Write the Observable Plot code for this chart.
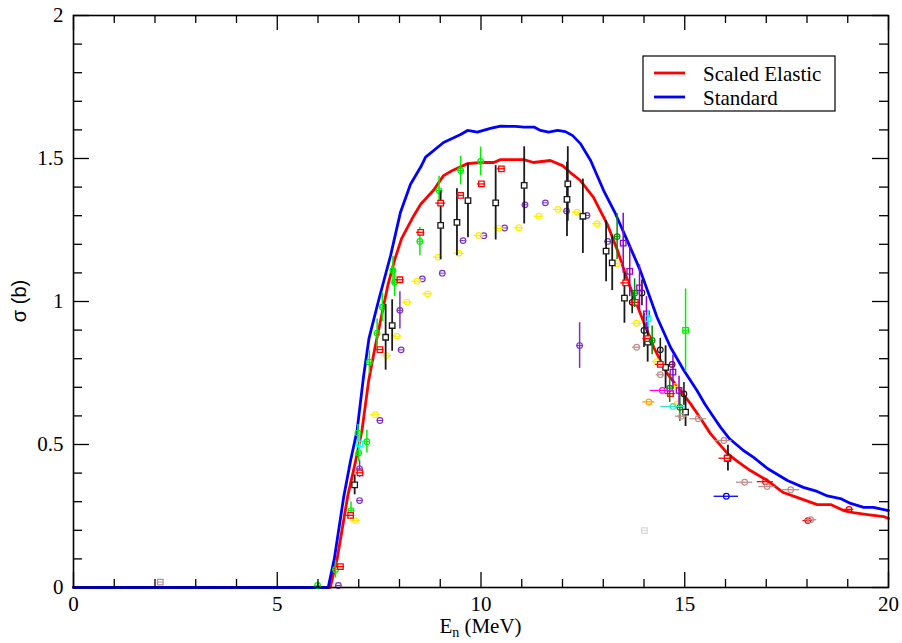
<!DOCTYPE html>
<html><head><meta charset="utf-8">
<script src="https://cdn.jsdelivr.net/npm/d3@7"></script>
<script src="https://cdn.jsdelivr.net/npm/@observablehq/plot@0.6"></script>
<style>body{margin:0;background:#fff}</style>
</head><body><div id="chart"></div>
<script>
// ---------- ticks ----------
const xMajorTicks = [0, 5, 10, 15, 20];
const xMinorTicks = [1, 2, 3, 4, 6, 7, 8, 9, 11, 12, 13, 14, 16, 17, 18, 19];
const yMajorTicks = [0, 0.5, 1, 1.5, 2];
const yMinorTicks = [0.1, 0.2, 0.3, 0.4, 0.6, 0.7, 0.8, 0.9, 1.1, 1.2, 1.3, 1.4, 1.6, 1.7, 1.8, 1.9];
const legendLabels = ["Scaled Elastic", "Standard"];

// ---------- curves ----------
const energyStd = [0, 6.25, 6.4, 6.63, 6.8, 6.96, 7.12, 7.25, 7.48, 7.78, 8.02, 8.27, 8.52, 8.64, 9.08, 9.5, 9.67, 9.91, 10.23, 10.48, 10.85, 11.05, 11.3, 11.46, 11.66, 11.88, 12.07, 12.25, 12.44, 12.69, 13.01, 13.3, 13.59, 13.91, 14.32, 14.65, 14.98, 15.3, 15.5, 15.71, 15.88, 16.1, 16.44, 16.69, 17.03, 17.52, 17.91, 18.25, 18.5, 18.82, 19.07, 19.39, 19.63, 20];
const sigmaStd  = [0, 0, 0.1, 0.316, 0.444, 0.55, 0.74, 0.87, 1.0, 1.16, 1.31, 1.41, 1.47, 1.505, 1.556, 1.584, 1.598, 1.592, 1.605, 1.613, 1.612, 1.61, 1.61, 1.598, 1.592, 1.598, 1.594, 1.58, 1.552, 1.493, 1.388, 1.307, 1.213, 1.108, 0.945, 0.84, 0.759, 0.689, 0.64, 0.595, 0.56, 0.52, 0.479, 0.455, 0.416, 0.374, 0.35, 0.336, 0.32, 0.311, 0.294, 0.28, 0.28, 0.269];
const energyScaled = [0, 6.3, 6.47, 6.73, 6.92, 7.08, 7.24, 7.4, 7.56, 7.72, 7.88, 8.05, 8.35, 8.52, 8.84, 9.08, 9.3, 9.67, 9.99, 10.31, 10.48, 11.05, 11.29, 11.7, 12.0, 12.2, 12.44, 12.76, 13.1, 13.35, 13.6, 13.91, 14.24, 14.57, 14.89, 15.14, 15.39, 15.63, 16.05, 16.3, 16.61, 17.03, 17.42, 17.84, 18.25, 18.58, 18.9, 19.14, 19.48, 19.88, 20];
const sigmaScaled  = [0, 0, 0.1, 0.32, 0.44, 0.55, 0.72, 0.84, 0.95, 1.06, 1.145, 1.22, 1.3, 1.34, 1.39, 1.44, 1.458, 1.482, 1.486, 1.486, 1.496, 1.496, 1.486, 1.493, 1.475, 1.45, 1.423, 1.364, 1.27, 1.178, 1.073, 0.958, 0.839, 0.748, 0.689, 0.643, 0.591, 0.538, 0.468, 0.44, 0.409, 0.374, 0.332, 0.311, 0.29, 0.29, 0.269, 0.262, 0.255, 0.248, 0.241];

// ---------- measurements ----------
const blackSqE   = [6.9, 7.66, 7.82, 9.01, 9.41, 9.68, 10.36, 11.06, 12.11, 12.13, 12.5, 13.07, 13.22, 13.52, 14.09, 14.53, 15.02, 16.06];
const blackSqS   = [0.359, 0.875, 0.916, 1.266, 1.277, 1.353, 1.345, 1.406, 1.357, 1.411, 1.298, 1.176, 1.135, 1.012, 0.858, 0.77, 0.613, 0.452];
const blackSqErr = [0.035, 0.115, 0.09, 0.12, 0.117, 0.13, 0.13, 0.135, 0.13, 0.13, 0.13, 0.107, 0.097, 0.088, 0.07, 0.075, 0.05, 0.045];

const blackCirE   = [13.71, 13.95, 14.0, 14.4, 14.98];
const blackCirS   = [0.997, 1.03, 0.899, 0.831, 0.677];
const blackCirErr = [0.04, 0.045, 0.06, 0.04, 0.04];

const redSqE  = [6.55, 6.8, 7.03, 7.52, 8.01, 8.52, 9.01, 9.5, 10.01, 10.5, 13.55, 13.79, 14.09, 14.4, 14.65, 16.04];
const redSqS  = [0.073, 0.252, 0.401, 0.832, 1.076, 1.242, 1.344, 1.371, 1.411, 1.464, 1.065, 0.997, 0.87, 0.78, 0.678, 0.452];
const redSqDx = [0.1, 0.1, 0.1, 0.1, 0.1, 0.1, 0.12, 0.1, 0.1, 0.1, 0.12, 0.12, 0.12, 0.12, 0.12, 0.2];

const redCirE  = [16.98, 18.02, 19.03];
const redCirS  = [0.37, 0.234, 0.273];
const redCirDx = [0.2, 0.12, 0.12];

const greenE   = [5.99, 6.43, 6.81, 6.98, 7.0, 7.2, 7.26, 7.45, 7.58, 7.84, 7.88, 8.5, 8.97, 9.5, 9.99];
const greenS   = [0.007, 0.063, 0.269, 0.54, 0.47, 0.51, 0.788, 0.889, 0.98, 1.108, 1.067, 1.21, 1.388, 1.458, 1.49];
const greenErr = [0.01, 0.03, 0.03, 0.03, 0.03, 0.04, 0.04, 0.05, 0.05, 0.05, 0.05, 0.05, 0.05, 0.05, 0.05];

const indigoE   = [6.5, 7.02, 7.02, 7.52, 8.04, 8.01, 8.56, 9.05, 9.56, 10.07, 10.58, 11.08, 11.58, 12.1, 12.6, 13.11, 12.42];
const indigoS   = [0.007, 0.304, 0.415, 0.584, 0.831, 0.969, 1.079, 1.099, 1.213, 1.23, 1.257, 1.338, 1.345, 1.316, 1.301, 1.21, 0.846];
const indigoErr = [0, 0, 0.03, 0, 0, 0.065, 0, 0, 0, 0, 0, 0, 0, 0, 0, 0, 0.08];

const yellowE  = [6.92, 7.41, 7.68, 7.94, 8.19, 8.43, 8.69, 8.95, 9.46, 9.95, 10.44, 10.93, 11.42, 11.89, 12.36, 12.85, 13.34, 13.82, 14.31, 14.77, 14.81];
const yellowS  = [0.234, 0.604, 0.811, 0.879, 0.998, 1.071, 1.027, 1.155, 1.169, 1.231, 1.256, 1.258, 1.298, 1.322, 1.312, 1.272, 1.132, 0.924, 0.79, 0.703, 0.642];
const yellowDx = [0.12, 0.12, 0.12, 0.12, 0.12, 0.12, 0.12, 0.12, 0.12, 0.12, 0.12, 0.12, 0.12, 0.12, 0.12, 0.12, 0.12, 0.12, 0.12, 0.1, 0.1];

const violetSqE   = [13.49, 13.65, 13.89, 14.06, 14.71, 14.86];
const violetSqS   = [1.204, 1.105, 1.048, 0.957, 0.753, 0.689];
const violetSqErr = [0.105, 0.088, 0.08, 0.06, 0.06, 0.05];

const dkGreenE   = [13.34, 13.77, 14.2, 14.63, 14.88];
const dkGreenS   = [1.227, 1.029, 0.864, 0.697, 0.63];
const dkGreenErr = [0.08, 0.05, 0.05, 0.05, 0.05];

const brownE  = [13.82, 14.4, 14.92, 15.33, 15.96, 16.47, 17.02, 17.6, 18.09];
const brownS  = [0.84, 0.744, 0.599, 0.59, 0.514, 0.368, 0.353, 0.342, 0.237];
const brownDx = [0.1, 0.1, 0.15, 0.2, 0.2, 0.2, 0.2, 0.22, 0.15];

const brownSqE = [2.13];  const brownSqS = [0.019];
const magentaE = [14.45]; const magentaS = [0.689]; const magentaDx = [0.3];
const orangeE  = [14.12]; const orangeS  = [0.649]; const orangeDx  = [0.15];
const turqE    = [14.71]; const turqS    = [0.633]; const turqDx    = [0.3];
const cyanE    = [14.1, 7.02]; const cyanS = [0.94, 0.502]; const cyanErr = [0.03, 0.03];
const blueE    = [16.02]; const blueS    = [0.319]; const blueDx    = [0.3];
const greySqE  = [14.01]; const greySqS  = [0.199];
const limeSqE  = [15.02]; const limeSqS  = [0.899]; const limeSqErr = [0.145];
const maroonE  = [14.69]; const maroonS  = [0.78];

// ---------- build tables ----------
const rows = (xs, ys, es) => xs.map((x, i) => ({x, y: ys[i], e: es ? es[i] : 0}));
const std = rows(energyStd, sigmaStd);
const scaled = rows(energyScaled, sigmaScaled);

// ---------- layout ----------
const W = 902, H = 643, mL = 73, mR = 14, mT = 15, mB = 56;
const xDomain = [0, 20], yDomain = [0, 2];
const pxX = (xDomain[1] - xDomain[0]) / (W - mL - mR);
const pxY = (yDomain[1] - yDomain[0]) / (H - mT - mB);

const C = {
  black: "#1a1a1a", red: "#ff0000", green: "#00ee00", indigo: "#7a32c4", yellow: "#ffee00",
  violet: "#9400d3", dkgreen: "#008b00", brown: "#bc8f8f", magenta: "#ff00ff", orange: "#ffa500",
  turq: "#40e0d0", cyan: "#00ffff", blue: "#0000ff", grey: "#d8d8d8", maroon: "#670748"
};

const vbars = (t, c, w = 1.5) => Plot.ruleX(t.filter(d => d.e > 0), {x: "x", y1: d => d.y - d.e, y2: d => d.y + d.e, stroke: c, strokeWidth: w});
const hbars = (t, c, w = 1.3) => Plot.ruleY(t.filter(d => d.e > 0), {y: "y", x1: d => d.x - d.e, x2: d => d.x + d.e, stroke: c, strokeWidth: w});
const mids = (t, c) => Plot.ruleY(t, {y: "y", x1: d => d.x - 2.8 * pxX, x2: d => d.x + 2.8 * pxX, stroke: c, strokeWidth: 1});
const circles = (t, c) => Plot.dot(t, {x: "x", y: "y", r: 2.8, stroke: c, strokeWidth: 1.2, fill: "none"});
const squares = (t, c, fill = "white") => Plot.dot(t, {x: "x", y: "y", r: 3.1, symbol: "square", stroke: c, strokeWidth: 1.3, fill});

function tickSet(xs, ys, len, lenY) {
  return [
    Plot.ruleX(xs, {x: d => d, y1: yDomain[0], y2: yDomain[0] + len * pxY, stroke: "black", strokeWidth: 1.3}),
    Plot.ruleX(xs, {x: d => d, y1: yDomain[1], y2: yDomain[1] - len * pxY, stroke: "black", strokeWidth: 1.3}),
    Plot.ruleY(ys, {y: d => d, x1: xDomain[0], x2: xDomain[0] + lenY * pxX, stroke: "black", strokeWidth: 1.3}),
    Plot.ruleY(ys, {y: d => d, x1: xDomain[1], x2: xDomain[1] - lenY * pxX, stroke: "black", strokeWidth: 1.3})
  ];
}

const blackSq = rows(blackSqE, blackSqS, blackSqErr);
const blackCir = rows(blackCirE, blackCirS, blackCirErr);
const redSq = rows(redSqE, redSqS, redSqDx);
const redCir = rows(redCirE, redCirS, redCirDx);
const green = rows(greenE, greenS, greenErr);
const indigo = rows(indigoE, indigoS, indigoErr);
const yellow = rows(yellowE, yellowS, yellowDx);
const violetSq = rows(violetSqE, violetSqS, violetSqErr);
const dkGreen = rows(dkGreenE, dkGreenS, dkGreenErr);
const brown = rows(brownE, brownS, brownDx);
const brownSq = rows(brownSqE, brownSqS);
const magenta = rows(magentaE, magentaS, magentaDx);
const orange = rows(orangeE, orangeS, orangeDx);
const turq = rows(turqE, turqS, turqDx);
const cyan = rows(cyanE, cyanS, cyanErr);
const blue = rows(blueE, blueS, blueDx);
const greySq = rows(greySqE, greySqS);
const limeSq = rows(limeSqE, limeSqS, limeSqErr);
const maroon = rows(maroonE, maroonS);

const plot = Plot.plot({
  width: W, height: H,
  marginLeft: mL, marginRight: mR, marginTop: mT, marginBottom: mB,
  x: {domain: xDomain, label: null},
  y: {domain: yDomain, label: null},
  style: {fontFamily: "'Liberation Serif', 'Times New Roman', serif", fontSize: "21px", background: "white", color: "black", overflow: "visible"},
  marks: [
    // curves
    Plot.line(scaled, {x: "x", y: "y", stroke: C.red, strokeWidth: 2.8}),
    Plot.line(std, {x: "x", y: "y", stroke: C.blue, strokeWidth: 2.8}),

    vbars(indigo, C.indigo), mids(indigo, C.indigo), circles(indigo, C.indigo),
    hbars(yellow, C.yellow), circles(yellow, C.yellow),
    vbars(green, C.green), mids(green, C.green), circles(green, C.green),
    vbars(blackSq, C.black, 1.8), squares(blackSq, C.black),
    vbars(blackCir, C.black, 1.6), circles(blackCir, C.black),
    squares(redSq, C.red), hbars(redSq, C.red),
    hbars(redCir, C.red), circles(redCir, C.red),
    vbars(violetSq, C.violet), squares(violetSq, C.violet, "none"),
    vbars(dkGreen, C.dkgreen), mids(dkGreen, C.dkgreen), circles(dkGreen, C.dkgreen),
    hbars(brown, C.brown), circles(brown, C.brown),
    squares(brownSq, C.brown, "none"), mids(brownSq, C.brown),
    hbars(magenta, C.magenta), circles(magenta, C.magenta),
    hbars(orange, C.orange), circles(orange, C.orange),
    hbars(turq, C.turq), circles(turq, C.turq),
    vbars(cyan, C.cyan), squares(cyan, C.cyan, "none"),
    hbars(blue, C.blue), circles(blue, C.blue),
    squares(greySq, C.grey, "none"), mids(greySq, C.grey),
    vbars(limeSq, C.green), squares(limeSq, C.green, "none"), mids(limeSq, C.green),
    circles(maroon, C.maroon), mids(maroon, C.maroon),

    // ticks
    ...tickSet(xMajorTicks, yMajorTicks, 15, 16),
    ...tickSet(xMinorTicks, yMinorTicks, 8, 9),
    Plot.frame({stroke: "black", strokeWidth: 1.6}),

    Plot.axisX(xMajorTicks, {anchor: "bottom", tickSize: 0, tickPadding: 9, tickFormat: d => String(d), label: null}),
    Plot.axisY(yMajorTicks, {anchor: "left", tickSize: 0, tickPadding: 10, tickFormat: d => String(d), label: null})
  ]
});

document.getElementById("chart").appendChild(plot);

// axis titles and legend
const svg = d3.select(plot);
const xs = plot.scale("x"), ys = plot.scale("y");
const midX = (xs.apply(xDomain[0]) + xs.apply(xDomain[1])) / 2;
const midY = (ys.apply(yDomain[0]) + ys.apply(yDomain[1])) / 2;

const xt = svg.append("text")
  .attr("x", midX).attr("y", H - 10)
  .attr("text-anchor", "middle")
  .style("font-family", "'Liberation Serif', serif").style("font-size", "21px").attr("fill", "black");
xt.append("tspan").text("E");
xt.append("tspan").attr("dy", 4).style("font-size", "14px").text("n");
xt.append("tspan").attr("dy", -4).text(" (MeV)");

svg.append("text")
  .attr("transform", `translate(26,${midY}) rotate(-90)`)
  .attr("text-anchor", "middle")
  .style("font-family", "'Liberation Sans', Arial, sans-serif").style("font-size", "20px").attr("fill", "black")
  .text("σ (b)");

const lg = svg.append("g");
lg.append("rect").attr("x", 643).attr("y", 56).attr("width", 192).attr("height", 55)
  .attr("fill", "white").attr("stroke", "black").attr("stroke-width", 1.2);
const legendColors = [C.red, C.blue];
legendLabels.forEach((lab, i) => {
  const yy = 73 + i * 24;
  lg.append("line").attr("x1", 654).attr("x2", 685).attr("y1", yy).attr("y2", yy)
    .attr("stroke", legendColors[i]).attr("stroke-width", 2.8);
  lg.append("text").attr("x", 703).attr("y", yy + 8)
    .attr("text-anchor", "start")
    .style("font-family", "'Liberation Serif', serif").style("font-size", "21px").attr("fill", "black")
    .text(lab);
});
</script></body></html>
